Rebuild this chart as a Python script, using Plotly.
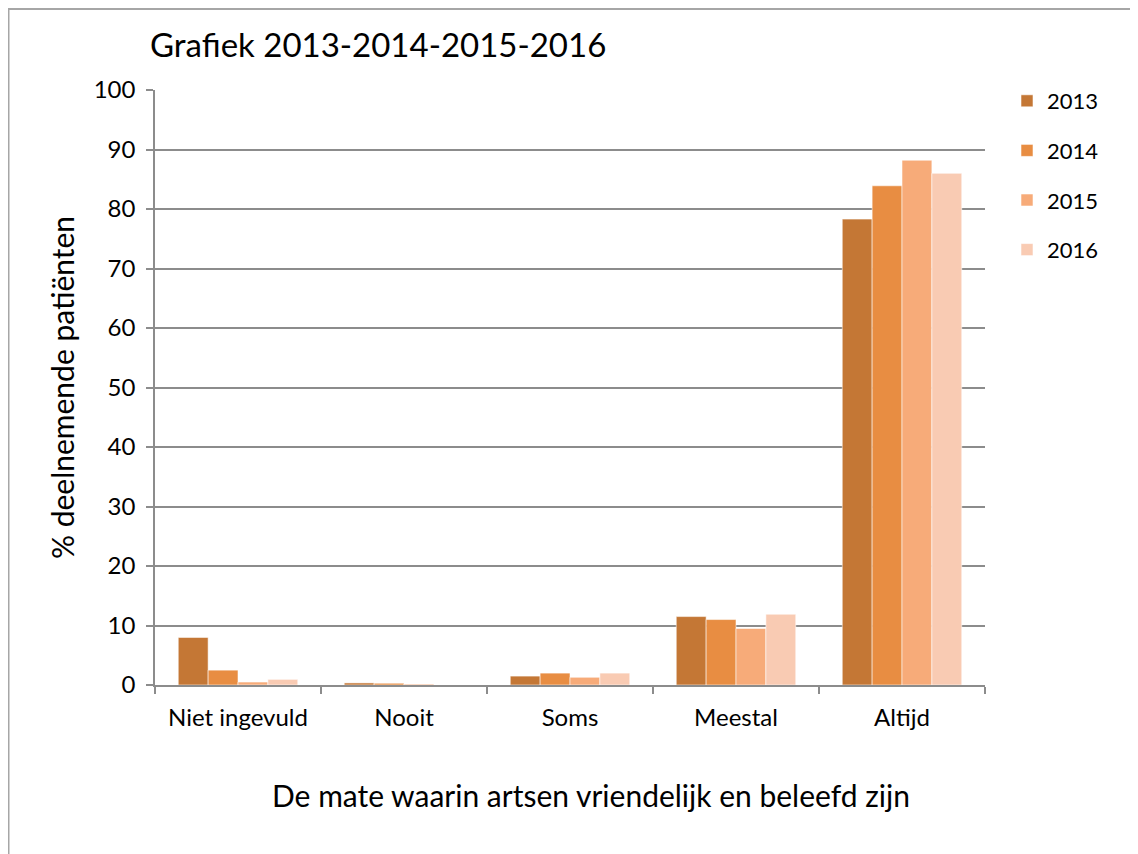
import plotly.graph_objects as go

categories = ["Niet ingevuld", "Nooit", "Soms", "Meestal", "Altijd"]
years = ["2013", "2014", "2015", "2016"]
v2013 = [8.0, 0.35, 1.5, 11.5, 78.3]
v2014 = [2.5, 0.3, 2.0, 11.0, 83.9]
v2015 = [0.5, 0.15, 1.3, 9.5, 88.2]
v2016 = [0.95, 0.0, 2.0, 11.9, 86.0]
colors = ["#C47735", "#E88D42", "#F7AB79", "#F9CBB3"]
yticks = [0, 10, 20, 30, 40, 50, 60, 70, 80, 90, 100]

FONT = "Lato"
GRAY = "#8c8c8c"

# page has an 8px body margin; figure coordinates = page coordinates - 8
ML, MR, MT, MB = 147, 161, 82, 177
PW = 1138 - ML - MR
PH = 854 - MT - MB

def px(fx):
    return (fx - ML) / PW

def py(fy):
    return (854 - MB - fy) / PH

fig = go.Figure()
for yr, vals, col in zip(years, [v2013, v2014, v2015, v2016], colors):
    fig.add_trace(go.Bar(
        x=categories, y=vals, name=yr, legendgroup=yr,
        marker=dict(color=col, line=dict(color="rgba(255,255,255,0.55)", width=1)),
    ))

fig.update_layout(
    width=1138, height=854,
    margin=dict(l=ML, r=MR, t=MT, b=MB),
    paper_bgcolor="white", plot_bgcolor="white",
    barmode="group", bargap=0.28, bargroupgap=0,
    font=dict(family=FONT, color="black"),
    title=dict(text="Grafiek 2013-2014-2015-2016", x=142/1138, xanchor="left",
               y=1-37/854, yanchor="middle", font=dict(size=33, family=FONT, color="black")),
    legend=dict(x=px(999), xanchor="left", y=py(72), yanchor="top",
                traceorder="grouped", tracegroupgap=18,
                font=dict(size=22, family=FONT, color="black"),
                itemwidth=30),
    showlegend=True,
)
fig.update_xaxes(
    showline=True, linecolor=GRAY, linewidth=1.5,
    ticks="outside", tickson="boundaries", ticklen=7, tickcolor=GRAY, tickwidth=1.5,
    tickfont=dict(size=24, family=FONT, color="black"),
    ticklabelstandoff=10,
    showgrid=False,
)
fig.update_yaxes(
    range=[0, 100], tickvals=yticks,
    showline=True, linecolor=GRAY, linewidth=1.5,
    ticks="outside", ticklen=7, tickcolor=GRAY, tickwidth=1.5,
    ticklabelstandoff=6,
    showgrid=True, gridcolor=GRAY, gridwidth=1.5,
    zeroline=False,
    tickfont=dict(size=24, family=FONT, color="black"),
    title=dict(text="% deelnemende patiënten", font=dict(size=30, family=FONT, color="black"), standoff=10),
)
# x-axis title (offset to the right as in the original)
fig.add_annotation(text="De mate waarin artsen vriendelijk en beleefd zijn",
                   xref="paper", yref="paper", x=px(583), y=py(787),
                   xanchor="center", yanchor="middle", showarrow=False,
                   font=dict(size=30, family=FONT, color="black"))
# outer chart border (top and left edges)
fig.add_shape(type="line", xref="paper", yref="paper",
              x0=px(0), x1=px(1140), y0=py(1), y1=py(1),
              line=dict(color="#a6a6a6", width=2))
fig.add_shape(type="line", xref="paper", yref="paper",
              x0=px(0.5), x1=px(0.5), y0=py(1), y1=py(860),
              line=dict(color="#a6a6a6", width=2))

fig.write_html("out.html")
